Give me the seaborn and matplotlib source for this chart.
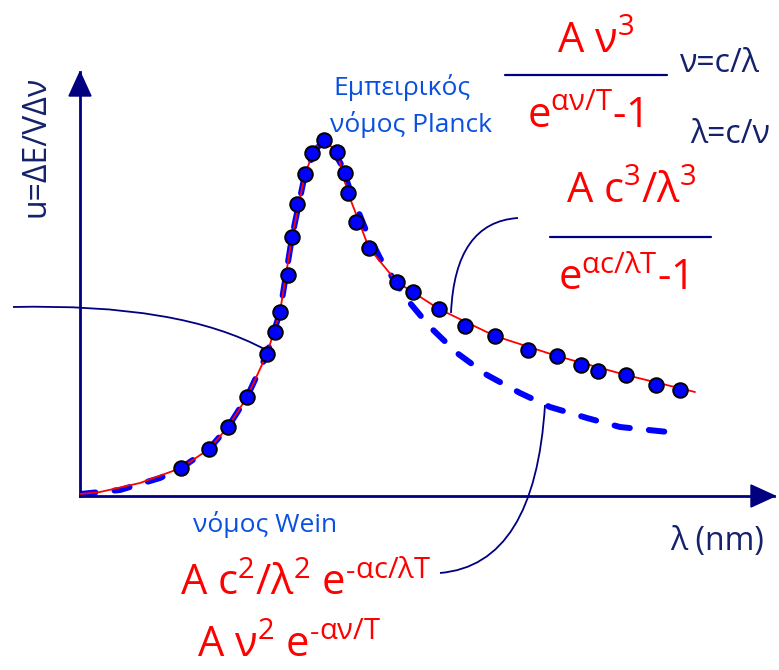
import numpy as np
import pandas as pd
import matplotlib
matplotlib.use("Agg")
import matplotlib.pyplot as plt
from matplotlib.path import Path
from matplotlib.patches import PathPatch, Polygon
import seaborn as sns

# Measured spectrum (wavelength position, energy density), arbitrary units
lam_meas = [101, 129, 148, 167, 187, 195, 200, 208, 212, 217, 225, 232, 244,
            257, 265, 268, 276, 289, 317, 333, 359, 385, 415, 448, 477, 501,
            518, 546, 576, 600]
u_meas = [28, 47, 69, 99, 142, 164, 184, 221, 259, 292, 322, 343, 356,
          344, 323, 303, 274, 248, 214, 204, 187, 170, 160, 146, 140, 131,
          125, 121, 111, 106]

# Planck law curve
lam_planck = [0, 20, 60, 101, 129, 148, 167, 187, 200, 212, 225, 235, 244,
              257, 268, 289, 317, 359, 415, 477, 546, 615]
u_planck = [2, 4, 13, 28, 47, 69, 99, 142, 184, 259, 322, 348, 356,
            344, 303, 248, 214, 187, 160, 140, 121, 104]

# Wien law curve
lam_wien = [0, 40, 80, 101, 129, 148, 167, 187, 200, 212, 225, 235, 242,
            252, 262, 272, 285, 300, 325, 350, 377, 407, 440, 470, 507, 540, 588]
u_wien = [2, 6, 18, 28, 47, 69, 99, 142, 184, 259, 322, 346, 353,
          348, 330, 300, 268, 238, 199, 169, 143, 121, 103, 89, 78, 69, 64]

NAVY = "#000080"
TEXT_NAVY = "#14216b"
RED = "#ff0000"
BLUE_TXT = "#0a50e0"

sns.set_theme(style="white")
plt.rcParams["font.family"] = ["Open Sans", "DejaVu Sans"]
plt.rcParams["mathtext.fontset"] = "custom"
plt.rcParams["mathtext.rm"] = "Open Sans"
plt.rcParams["mathtext.it"] = "Open Sans"
plt.rcParams["mathtext.bf"] = "Open Sans"

W, H = 779, 670
fig = plt.figure(figsize=(W / 100, H / 100), dpi=100)

# canvas in pixel units for labels and connectors
ov = fig.add_axes([0, 0, 1, 1])
ov.set_xlim(0, W)
ov.set_ylim(H, 0)
ov.axis("off")

# chart axes, origin at the corner of the two arrows
x0, y0, x1, y1 = 80, 496, 774, 72
ax = fig.add_axes([x0 / W, (H - y0) / H, (x1 - x0) / W, (y0 - y1) / H])
ax.set_xlim(0, x1 - x0)
ax.set_ylim(0, y0 - y1)
ax.patch.set_alpha(0)
for s in ["top", "right"]:
    ax.spines[s].set_visible(False)
for s in ["left", "bottom"]:
    ax.spines[s].set_color(NAVY)
    ax.spines[s].set_linewidth(2)
ax.set_xticks([])
ax.set_yticks([])

df_planck = pd.DataFrame({"lam": lam_planck, "u": u_planck})
df_wien = pd.DataFrame({"lam": lam_wien, "u": u_wien})
df_meas = pd.DataFrame({"lam": lam_meas, "u": u_meas})

sns.lineplot(data=df_planck, x="lam", y="u", ax=ax, color=RED, lw=1.3,
             sort=False, estimator=None, zorder=3)
sns.lineplot(data=df_wien, x="lam", y="u", ax=ax, color="#0000ff", lw=4.3,
             sort=False, estimator=None, zorder=2,
             dashes=False)
ax.lines[-1].set_dashes((2.6, 3.2))
ax.lines[-1].set_dash_capstyle("round")
sns.scatterplot(data=df_meas, x="lam", y="u", ax=ax, color="#0000ff",
                edgecolor="black", linewidth=1.4, s=110, zorder=4,
                clip_on=False)
ax.set_xlabel("")
ax.set_ylabel("")

# arrow heads
ov.add_patch(Polygon([[751, 485], [775, 496], [751, 507]], closed=True,
                     color=NAVY, zorder=5))
ov.add_patch(Polygon([[69, 96], [80, 72], [91, 96]], closed=True,
                     color=NAVY, zorder=5))

# curved connectors
def connector(p0, c, p2):
    path = Path([p0, c, p2], [Path.MOVETO, Path.CURVE3, Path.CURVE3])
    ov.add_patch(PathPatch(path, fc="none", ec=NAVY, lw=1.3, zorder=6))

connector((13, 307), (180, 303), (266, 350))
connector((518, 218), (455, 222), (451, 313))
connector((545, 405), (535, 565), (440, 573))

# fraction bars
ov.plot([505, 667], [75, 75], color=NAVY, lw=1.6)
ov.plot([550, 711], [237, 237], color=NAVY, lw=1.6)

# axis labels
ov.text(36, 146, "u=ΔΕ/VΔν", rotation=90, ha="center", va="center",
        fontsize=23, color=TEXT_NAVY)
ov.text(670, 550, "λ (nm)", ha="left", va="baseline", fontsize=23,
        color=TEXT_NAVY)

# law names
ov.text(402, 95, "Εμπειρικός", ha="center", va="baseline", fontsize=19,
        color=BLUE_TXT)
ov.text(411, 132, "νόμος Planck", ha="center", va="baseline", fontsize=19,
        color=BLUE_TXT)
ov.text(193, 532, "νόμος Wein", ha="left", va="baseline", fontsize=19,
        color=BLUE_TXT)

# formulas
big = 30
ov.text(596, 53, r"A ν$^{3}$", ha="center", va="baseline", fontsize=big,
        color=RED)
ov.text(585, 128, r"e$^{\mathregular{αν/T}}$-1", ha="center", va="baseline",
        fontsize=big, color=RED)
ov.text(631, 203, r"A c$^{3}$/λ$^{3}$", ha="center", va="baseline",
        fontsize=big, color=RED)
ov.text(623, 290, r"e$^{\mathregular{αc/λT}}$-1", ha="center", va="baseline",
        fontsize=big, color=RED)
ov.text(180, 595, r"A c$^{2}$/λ$^{2}$ e$^{\mathregular{‐αc/λT}}$", ha="left",
        va="baseline", fontsize=big, color=RED)
ov.text(197, 657, r"A ν$^{2}$ e$^{\mathregular{‐αν/T}}$", ha="left",
        va="baseline", fontsize=big, color=RED)

ov.text(680, 72, "ν=c/λ", ha="left", va="baseline", fontsize=23,
        color=TEXT_NAVY)
ov.text(690, 143, "λ=c/ν", ha="left", va="baseline", fontsize=23,
        color=TEXT_NAVY)

fig.savefig("out.png", dpi=100)
